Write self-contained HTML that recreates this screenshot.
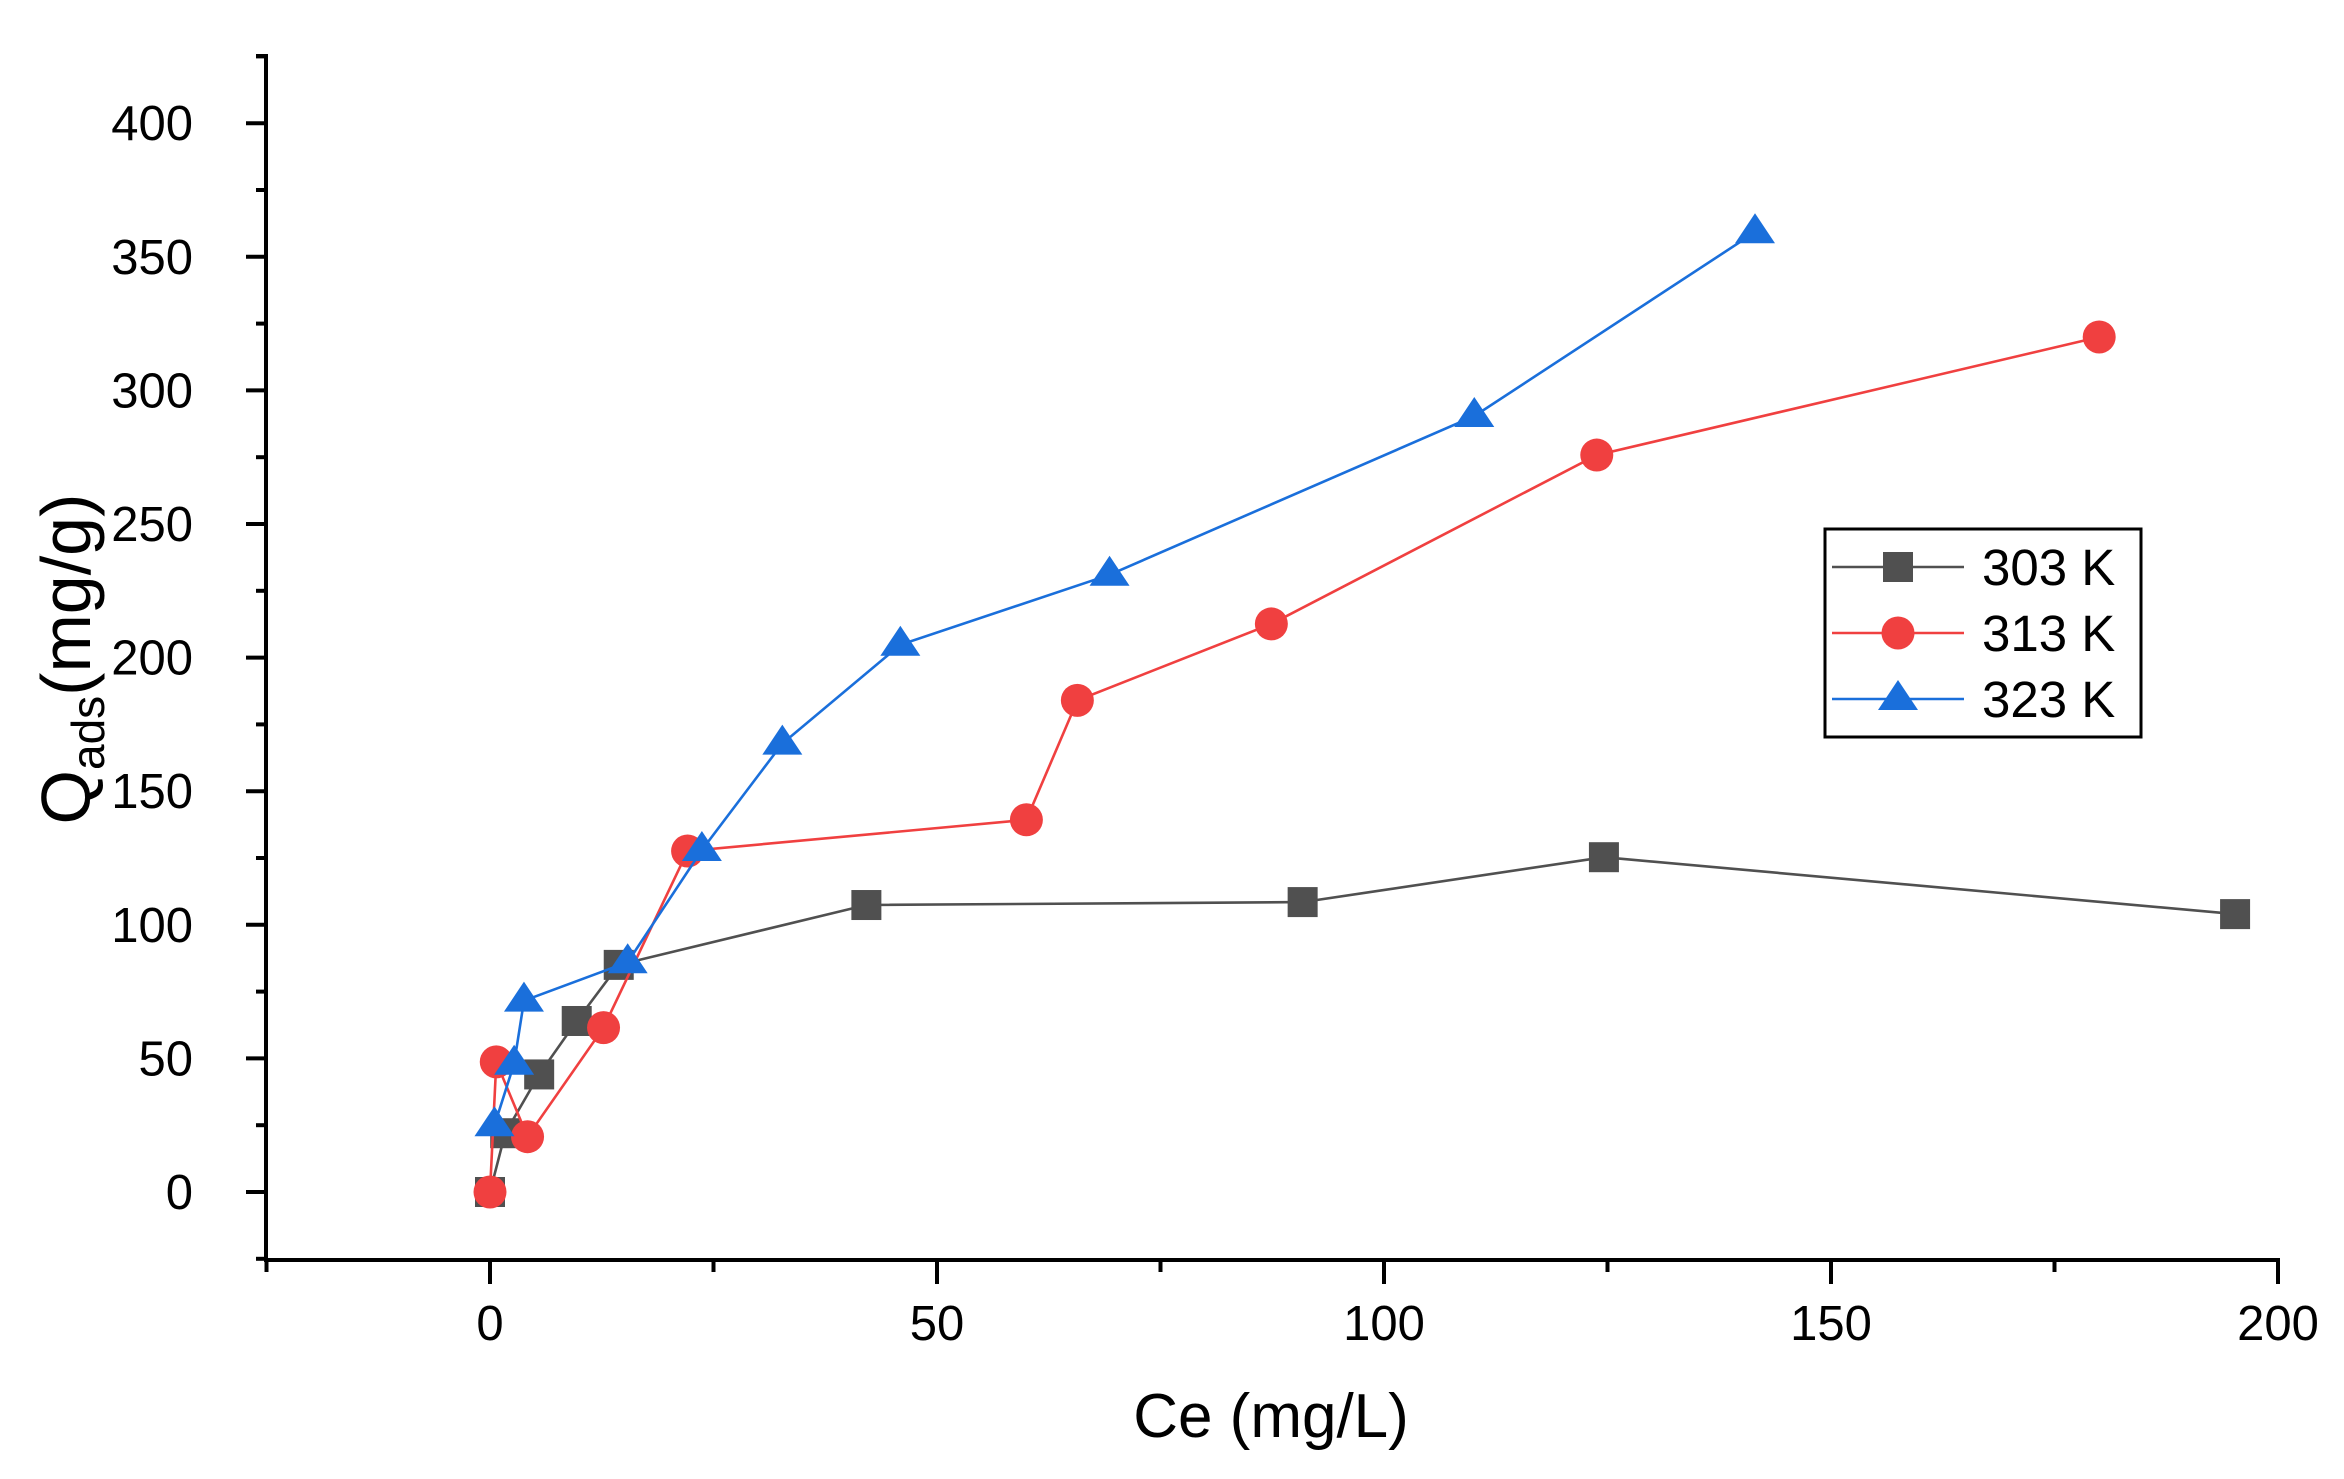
<!DOCTYPE html>
<html><head><meta charset="utf-8"><style>
html,body{margin:0;padding:0;background:#fff;}
svg{display:block;}
text{font-family:"Liberation Sans",Arial,sans-serif;fill:#000;}
</style></head><body>
<svg id="s" width="2344" height="1479" xmlns="http://www.w3.org/2000/svg"></svg>
<script>
const s=document.getElementById('s');
const X=v=>490+8.94*v, Y=v=>1192-2.672*v;
let h='';
// axes
h+='<line x1="266" y1="54" x2="266" y2="1262" stroke="#000" stroke-width="4"/>';
h+='<line x1="264" y1="1260" x2="2280" y2="1260" stroke="#000" stroke-width="4"/>';
// y ticks
for(let v=-25;v<=425;v+=25){const y=Y(v);if(y<52||y>1262)continue;const maj=v%50===0;
 h+=`<line x1="${maj?246:256}" y1="${y}" x2="266" y2="${y}" stroke="#000" stroke-width="4"/>`;
 if(maj&&v>=0)h+=`<text x="193" y="${y+17}" font-size="49" text-anchor="end">${v}</text>`;}
// top tick at axis end
h+='<line x1="256" y1="56" x2="266" y2="56" stroke="#000" stroke-width="4"/>';
// x ticks
for(let v=-25;v<=200;v+=25){const x=X(v);const maj=v%50===0;
 h+=`<line x1="${x}" y1="1260" x2="${x}" y2="${maj?1284:1272}" stroke="#000" stroke-width="4"/>`;
 if(maj)h+=`<text x="${x}" y="1340" font-size="49" text-anchor="middle">${v}</text>`;}
// titles
h+='<text x="1271" y="1437" font-size="62" text-anchor="middle">Ce (mg/L)</text>';
h+='<text transform="translate(90,659) rotate(-90)" font-size="70" text-anchor="middle">Q<tspan font-size="46" dy="14">ads</tspan><tspan dy="-14">(mg/g)</tspan></text>';
const d303=[[0,0],[1.7,22],[5.5,44],[9.7,64],[14.4,85],[42.1,107.4],[90.9,108.5],[124.6,125.3],[195.2,104]];
const d313=[[0,0],[0.7,48.7],[4.2,20.7],[12.7,61.5],[22.1,127.6],[60,139.3],[65.7,184],[87.4,212.6],[123.8,275.8],[180,320]];
const d323=[[0.5,25],[2.7,48],[3.8,71.6],[15.4,86],[23.7,128],[32.7,167.8],[45.9,204.8],[69.3,231],[110.1,290.4],[141.5,359.2]];
const sq=(x,y,c)=>`<rect x="${x-15}" y="${y-15}" width="30" height="30" fill="${c}"/>`;
const ci=(x,y,c)=>`<circle cx="${x}" cy="${y}" r="16.5" fill="${c}"/>`;
const tr=(x,y,c)=>`<polygon points="${x},${y-19} ${x-20},${y+11} ${x+20},${y+11}" fill="${c}"/>`;
function ser(d,c,m){let p=d.map(a=>X(a[0]).toFixed(1)+','+Y(a[1]).toFixed(1)).join(' ');
 h+=`<polyline points="${p}" fill="none" stroke="${c}" stroke-width="2.6"/>`;
 d.forEach(a=>h+=m(X(a[0]),Y(a[1]),c));}
ser(d303,'#505050',sq);ser(d313,'#f04040',ci);ser(d323,'#1a6fdb',tr);
// legend
h+='<rect x="1825" y="529" width="316" height="208" fill="#fff" stroke="#000" stroke-width="3"/>';
const L=[['303 K','#505050',sq,567],['313 K','#f04040',ci,633],['323 K','#1a6fdb',tr,699]];
L.forEach(l=>{h+=`<line x1="1832" y1="${l[3]}" x2="1964" y2="${l[3]}" stroke="${l[1]}" stroke-width="2.6"/>`;
 h+=l[2](1898,l[3],l[1]);
 h+=`<text x="1982" y="${l[3]+18}" font-size="51">${l[0]}</text>`;});
s.innerHTML=h;
</script>
</body></html>
